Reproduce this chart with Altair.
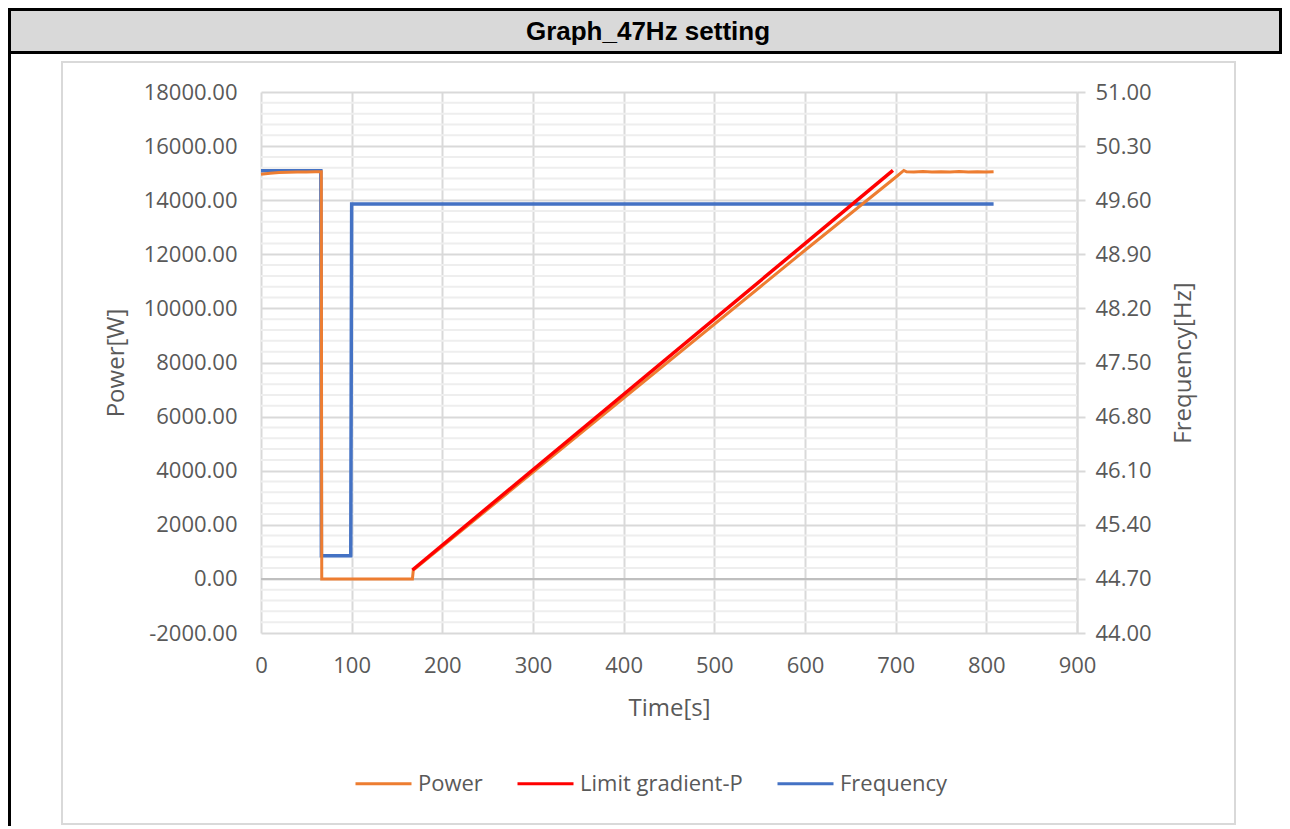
import altair as alt
import pandas as pd

# ---------------- data ----------------
chart_title = "Graph_47Hz setting"
series_names = ["Power", "Limit gradient-P", "Frequency"]
series_colors = ["#ED7D31", "#FF0000", "#4472C4"]

power_t = [0, 10, 20, 30, 40, 50, 60, 66.5, 67, 100, 130, 167, 168, 400, 600, 700, 709,
           712, 720, 730, 740, 750, 760, 770, 780, 790, 800, 808]
power_w = [14960, 15000, 15020, 15030, 15040, 15040, 15050, 15050, 0, 0, 0, 0, 330, 6680, 12150, 14850, 15100,
           15050, 15040, 15060, 15040, 15050, 15040, 15060, 15040, 15050, 15040, 15050]

limit_t = [167, 697]
limit_w = [330, 15100]

freq_t = [0, 66, 66.6, 99, 100, 808]
freq_hz = [49.98, 49.98, 45.0, 45.0, 49.55, 49.55]

x_ticks = list(range(0, 901, 100))
power_ticks = list(range(-2000, 18001, 2000))
power_minor = [v for v in range(-2000, 18001, 400) if v % 2000 != 0]
freq_ticks = [round(44.0 + 0.7 * i, 2) for i in range(11)]

# ---------------- layout ----------------
W, H = 816, 541
OX, OY = 261, 92          # page position of plot origin
CANVAS_W, CANVAS_H = 1274, 818
PAD = {"left": OX - 8, "top": OY - 8,
       "right": CANVAS_W - (OX - 8) - W, "bottom": CANVAS_H - (OY - 8) - H}

FONT = "Open Sans"
TXT = "#595959"
GRID = "#d9d9d9"

df_power = pd.DataFrame({"t": power_t, "v": power_w, "s": series_names[0]})
df_limit = pd.DataFrame({"t": limit_t, "v": limit_w, "s": series_names[1]})
df_freq = pd.DataFrame({"t": freq_t, "v": freq_hz, "s": series_names[2]})
df_minor = pd.DataFrame({"v": power_minor})
df_zero = pd.DataFrame({"v": [0]})
one = pd.DataFrame({"a": [0]})

xscale = alt.Scale(domain=[0, 900], nice=False, zero=False)
pscale = alt.Scale(domain=[-2000, 18000], nice=False, zero=False)
fscale = alt.Scale(domain=[44.0, 51.0], nice=False, zero=False)
cscale = alt.Scale(domain=series_names, range=series_colors)

neg_fmt = "(datum.value < 0 ? '-' : '') + format(abs(datum.value), '.2f')"

x_axis = alt.Axis(values=x_ticks, grid=True, gridColor=GRID, gridWidth=2, domain=False, ticks=False,
                  labelPadding=22, labelFlush=False, labelOverlap=False,
                  title="Time[s]", titlePadding=20, orient="bottom")
p_axis = alt.Axis(values=power_ticks, labelExpr=neg_fmt, grid=True, gridColor=GRID, gridWidth=2,
                  domain=False, ticks=False, labelPadding=24, title="Power[W]", titlePadding=15,
                  orient="left", labelOverlap=False)
f_axis = alt.Axis(values=freq_ticks, format=".2f", grid=False, orient="right", domain=True,
                  domainColor=GRID, domainWidth=2, ticks=True, tickSize=8, tickColor=GRID, tickWidth=2,
                  labelPadding=10, title="Frequency[Hz]", titlePadding=20, titleAngle=270,
                  titleBaseline="top", labelOverlap=False)

legend = alt.Legend(orient="none", legendX=93, legendY=662, direction="horizontal", title=None,
                    symbolType="stroke", symbolSize=3136, symbolStrokeWidth=3, labelLimit=0,
                    labelFont=FONT, labelFontSize=22, labelColor=TXT, columnPadding=28, labelOffset=5)

X = alt.X("t:Q", scale=xscale, axis=x_axis)

minor = alt.Chart(df_minor).mark_rule(color="#eeeeee", strokeWidth=2).encode(
    y=alt.Y("v:Q", scale=pscale, axis=None))
zero = alt.Chart(df_zero).mark_rule(color="#bfbfbf", strokeWidth=2).encode(
    y=alt.Y("v:Q", scale=pscale, axis=None))

freq = alt.Chart(df_freq).mark_line(strokeWidth=3.5).encode(
    x=X, y=alt.Y("v:Q", scale=fscale, axis=f_axis),
    color=alt.Color("s:N", scale=cscale, legend=legend))
power = alt.Chart(df_power).mark_line(strokeWidth=3).encode(
    x=X, y=alt.Y("v:Q", scale=pscale, axis=p_axis),
    color=alt.Color("s:N", scale=cscale, legend=legend))
limit = alt.Chart(df_limit).mark_line(strokeWidth=3.5).encode(
    x=X, y=alt.Y("v:Q", scale=pscale, axis=None),
    color=alt.Color("s:N", scale=cscale, legend=legend))

# decorations (page frame, header)
header = alt.Chart(one).mark_rect(fill="#d9d9d9", stroke="#000000", strokeWidth=3).encode(
    x=alt.value(9.5 - OX), x2=alt.value(1280.5 - OX), y=alt.value(9.5 - OY), y2=alt.value(52.5 - OY))
left_line = alt.Chart(one).mark_rule(color="#000000", strokeWidth=3).encode(
    x=alt.value(9.5 - OX), y=alt.value(52 - OY), y2=alt.value(CANVAS_H + 8 - OY))
header_text = alt.Chart(one).mark_text(font="Liberation Sans", fontWeight="bold", fontSize=26,
                                        color="#000000", align="center", baseline="middle").encode(
    x=alt.value(648 - OX), y=alt.value(32 - OY), text=alt.value(chart_title))
frame = alt.Chart(one).mark_rect(fill=None, stroke=GRID, strokeWidth=2).encode(
    x=alt.value(62 - OX), x2=alt.value(1235 - OX), y=alt.value(62 - OY), y2=alt.value(824 - OY))

chart = alt.layer(
    header, left_line, header_text, frame,
    minor, zero, freq, power, limit
).resolve_scale(y="independent").properties(
    width=W, height=H, autosize=alt.AutoSizeParams(type="none"), padding=PAD,
    background="white"
).configure_view(stroke=None).configure_axis(
    labelFont=FONT, labelFontSize=22, labelColor=TXT,
    titleFont=FONT, titleFontSize=24, titleColor=TXT, titleFontWeight="normal"
)

chart.save("out.html", embed_options={"renderer": "svg", "actions": False})
